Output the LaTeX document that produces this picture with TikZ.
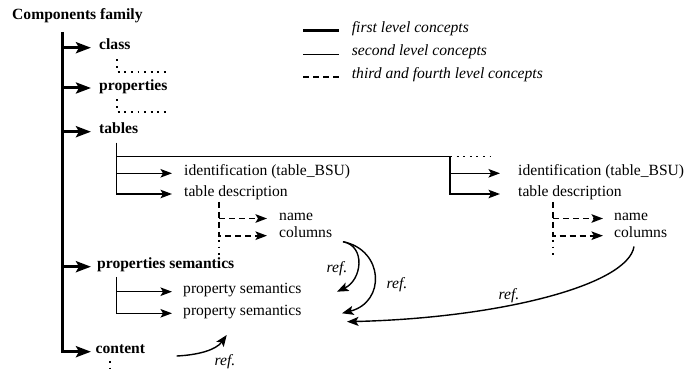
\documentclass[tikz,border=0pt]{standalone}
\usepackage{fontspec}
\setmainfont{Liberation Serif}
\usetikzlibrary{arrows.meta}
\begin{document}
\begin{tikzpicture}[x=1pt,y=-1pt,
  every node/.style={inner sep=0pt, anchor=west, text height=0.7em, text depth=0.25em, font=\fontsize{15.6}{18}\selectfont},
  lbl1/.style={font=\fontsize{15.6}{18}\selectfont\bfseries},
  ital/.style={font=\fontsize{15.6}{18}\selectfont\itshape},
  trunkarr/.style={line width=3pt, -{Stealth[length=15pt,width=11pt,inset=3pt]}},
  lvl2/.style={line width=1.4pt},
  lvl2arr/.style={lvl2, -{Stealth[length=11.5pt,width=8.5pt,inset=2.5pt]}},
  lvl3/.style={line width=1.9pt, dash pattern=on 6pt off 4pt},
  lvl3arr/.style={lvl3, -{Stealth[length=11.5pt,width=8.5pt,inset=2.5pt]}},
  more/.style={line width=1.9pt, dash pattern=on 1.9pt off 4.7pt},
  refarr/.style={line width=1.4pt, -{Stealth[length=11.5pt,width=9pt,inset=2.5pt]}},
]
\useasboundingbox (0,0) rectangle (686,371);

% legend
\node[ital] (leg1) at (351.7,30) {first level concepts};
\node[ital] (leg2) at (351.7,53) {second level concepts};
\node[ital] (leg3) at (351.7,76.5) {third and fourth level concepts};
\coordinate (l1) at (303,30.5);
\coordinate (l2) at (303,54.5);
\coordinate (l3) at (303,76.7);
\draw[line width=3pt] (l1) -- (339,30.5);
\draw[line width=1.4pt] (l2) -- (339,54.5);
\draw[lvl3] (l3) -- (339,76.7);

% root and first level
\node[lbl1] (root) at (12,17) {Components family};
\coordinate (trunk) at (62.7,32);
\node[lbl1] (class) at (99,47.7) {class};
\node[lbl1] (props) at (99,88) {properties};
\node[lbl1] (tables) at (99,131.7) {tables};
\node[lbl1] (psem) at (97,266.7) {properties semantics};
\node[lbl1] (content) at (95.5,351.7) {content};

\draw[trunkarr, shorten >=4.5pt] (trunk) |- (content.west);
\draw[trunkarr, shorten >=8pt] (trunk |- class.west) -- (class.west);
\draw[trunkarr, shorten >=8pt] (trunk |- props.west) -- (props.west);
\draw[trunkarr, shorten >=8pt] (trunk |- tables.west) -- (tables.west);
\draw[trunkarr, shorten >=6pt] (trunk |- psem.west) -- (psem.west);

% continuation dots
\draw[more] (117,59.5) -- (117,72) -- (170,72);
\draw[more] (117,99.5) -- (117,112) -- (170,112);
\draw[more] (110,361) -- (110,371);

% tables subtree
\node (id1) at (184,173.3) {identification (table\_BSU)};
\node (td1) at (184,194) {table description};
\node (nm1) at (279,218.5) {name};
\node (co1) at (279,235.7) {columns};
\node (id2) at (518,173.3) {identification (table\_BSU)};
\node (td2) at (518,194) {table description};
\node (nm2) at (614,218.5) {name};
\node (co2) at (614,235.7) {columns};

\coordinate (tb) at (116.7,142.7);
\coordinate (split) at (450,156.5);
\coordinate (splitend) at (490,156.5);
\draw[lvl2] (tb |- split) -- (split);
\draw[more] (split) -- (splitend);
\draw[lvl2arr, shorten >=12pt] (tb) |- (td1.west);
\draw[lvl2arr, shorten >=12pt] (tb |- id1.west) -- (id1.west);
\draw[lvl2arr, shorten >=18pt] (split) |- (td2.west);
\draw[lvl2arr, shorten >=18pt] (split |- id2.west) -- (id2.west);

\coordinate (d1) at (219,202);
\coordinate (d2) at (553.3,202);
\draw[lvl3arr, shorten >=12pt] (d1) |- (co1.west);
\draw[lvl3arr, shorten >=12pt] (d1 |- nm1.west) -- (nm1.west);
\draw[more] (219,240) -- (219,256);
\draw[lvl3arr, shorten >=11pt] (d2) |- (co2.west);
\draw[lvl3arr, shorten >=11pt] (d2 |- nm2.west) -- (nm2.west);
\draw[more] (553.3,240) -- (553.3,258);

% properties semantics subtree
\node (ps1) at (183,291.7) {property semantics};
\node (ps2) at (183,313.3) {property semantics};
\coordinate (pb) at (116.7,277);
\draw[lvl2arr, shorten >=11pt] (pb) |- (ps2.west);
\draw[lvl2arr, shorten >=11pt] (pb |- ps1.west) -- (ps1.west);

% references
\coordinate (r1s) at (343,241.7);
\coordinate (r1e) at (337,291.7);
\coordinate (r2e) at (342,313.3);
\coordinate (r3s) at (634,246.5);
\coordinate (r3e) at (347,321.7);
\coordinate (r4s) at (176.7,356);
\coordinate (r4e) at (226.7,335);
\draw[refarr] (r1s) .. controls (366,246) and (362,280) .. (r1e);
\draw[refarr] (r1s) .. controls (384,250) and (386,302) .. (r2e);
\draw[refarr] (r3s) .. controls (628,285) and (500,318) .. (r3e);
\draw[refarr] (r4s) .. controls (198,355) and (216,350) .. (r4e);
\node[ital, anchor=center] (ref1) at (337,270) {ref.};
\node[ital, anchor=center] (ref2) at (397,286) {ref.};
\node[ital, anchor=center] (ref3) at (509,297.5) {ref.};
\node[ital, anchor=center] (ref4) at (225,363) {ref.};
\end{tikzpicture}
\end{document}
